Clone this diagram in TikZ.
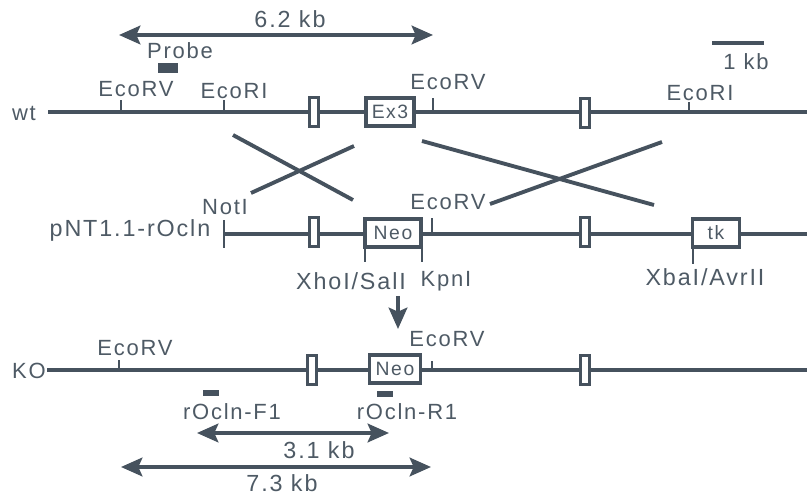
\documentclass[tikz,border=0pt]{standalone}
\usepackage{fontspec}
\setmainfont{Liberation Sans}[LetterSpace=8]
\usetikzlibrary{arrows.meta,positioning,calc}
\definecolor{kogrey}{HTML}{46525E}
\definecolor{kotext}{HTML}{4E5A65}

\begin{document}
\begin{tikzpicture}[
  x=0.75pt, y=-0.75pt,
  dna/.style={draw=kogrey, line width=2.7pt},
  exon/.style={
    draw=kogrey, line width=2.4pt, fill=white, inner sep=0pt,
    minimum width=6.6pt, minimum height=21.5pt},
  cassette/.style={
    draw=kogrey, line width=2.6pt, fill=white, inner sep=0pt,
    font=\fontsize{14.5}{16}\selectfont, text=kotext,
    minimum height=21pt},
  site/.style={draw=kogrey, line width=2.2pt},
  cross/.style={draw=kogrey, line width=2.9pt},
  span/.style={{Stealth[length=16pt,width=14pt,inset=3pt]}-{Stealth[length=16pt,width=14pt,inset=3pt]}, draw=kogrey, fill=kogrey, line width=2.7pt},
  bar/.style={fill=kogrey, inner sep=0pt},
  lbl/.style={font=\fontsize{16.5}{18}\selectfont, text=kotext, inner sep=0pt},
  widelbl/.style={lbl, font=\fontsize{17.5}{19}\selectfont},
]
  \useasboundingbox (0,0) rectangle (807,495);

  %% ---- Line ends ----
  \coordinate (wtl) at (48,112);   \coordinate (wtr) at (807,112);
  \coordinate (pnl) at (224,234);  \coordinate (pnr) at (807,234);
  \coordinate (kol) at (47,370);   \coordinate (kor) at (807,370);
  \draw[dna] (wtl) -- (wtr);
  \draw[dna] (pnl) -- (pnr);
  \draw[dna] (kol) -- (kor);

  %% ---- Exons and boxes ----
  \node[exon] (wte2) at (314,112) {};
  \node[exon] (wte4) at (585,113) {};
  \node[exon] (pne2) at (314,232) {};
  \node[exon] (pne4) at (585,232) {};
  \node[exon] (koe2) at (312,370) {};
  \node[exon] (koe4) at (585,370) {};
  \node[cassette, minimum width=36pt] (ex3) at (390,112) {Ex3};
  \node[cassette, minimum width=42pt] (neo) at (393,233) {Neo};
  \node[cassette, minimum width=35pt] (tk)  at (716,233) {tk};
  \node[cassette, minimum width=38pt] (kon) at (395,369) {Neo};

  %% ---- Restriction sites ----
  \foreach \s/\x/\y/\h in {a/121/112/-12,b/224/112/-12,c/433/112/-14,d/689/112/-10,
      e/224/248/-28,f/432/234/-16,g/365/248/14,h/422/248/14,i/693/248/16,
      j/119/370/-10,k/432/370/-9}{
    \coordinate (s\s) at (\x,\y);
    \draw[site] (s\s) -- ++(0,\h);
  }

  %% ---- Crossovers ----
  \coordinate (c1a) at (233,135);  \coordinate (c1b) at (353,200);
  \coordinate (c1c) at (251,193);  \coordinate (c1d) at (354,146);
  \coordinate (c2a) at (422,141);  \coordinate (c2b) at (654,205);
  \coordinate (c2c) at (490,204);  \coordinate (c2d) at (662,142);
  \draw[cross] (c1a) -- (c1b);
  \draw[cross] (c1c) -- (c1d);
  \draw[cross] (c2a) -- (c2b);
  \draw[cross] (c2c) -- (c2d);

  %% ---- Size arrows ----
  \coordinate (l62) at (119,35);   \coordinate (r62) at (433,35);
  \coordinate (l31) at (197,433);  \coordinate (r31) at (389,433);
  \coordinate (l73) at (121,467);  \coordinate (r73) at (431,467);
  \draw[span] (l62) -- (r62);
  \draw[span] (l31) -- (r31);
  \draw[span] (l73) -- (r73);
  \node[widelbl] (t62) at (290,19)  {6.2 kb};
  \node[widelbl] (t31) at (319,450) {3.1 kb};
  \node[widelbl] (t73) at (282,483) {7.3 kb};

  %% ---- Probe, primers, scale ----
  \node[bar, minimum width=15pt, minimum height=8pt] (probe) at (168,68) {};
  \node[bar, minimum width=12pt, minimum height=5pt] (pf1) at (211,393) {};
  \node[bar, minimum width=11.5pt, minimum height=5pt] (pr1) at (385,394) {};
  \coordinate (sl) at (712,43);  \coordinate (sr) at (764,43);
  \draw[site, line width=2.7pt] (sl) -- (sr);

  %% ---- Transition arrow ----
  \coordinate (dt) at (398,296);  \coordinate (db) at (398,329);
  \draw[-{Stealth[length=16pt,width=14pt,inset=3pt]}, draw=kogrey, fill=kogrey, line width=2.7pt] (dt) -- (db);

  %% ---- Labels ----
  \node[lbl] (tprobe) at (180,51)  {Probe};
  \node[lbl] (t1kb)   at (746,62)  {1 kb};
  \node[lbl] (twt)    at (24,113)  {wt};
  \node[widelbl] (tpn) at (130,230) {pNT1.1-rOcln};
  \node[lbl] (tko)    at (29,371)  {KO};
  \node[lbl] (tv1)    at (136,89)  {EcoRV};
  \node[lbl] (tr1)    at (234,91)  {EcoRI};
  \node[lbl] (tv2)    at (448,82)  {EcoRV};
  \node[lbl] (tr2)    at (700,93)  {EcoRI};
  \node[lbl] (tnot)   at (225,207) {NotI};
  \node[lbl] (tv3)    at (448,202) {EcoRV};
  \node[widelbl] (txho) at (351,281) {XhoI/SalI};
  \node[lbl] (tkpn)   at (446,281) {KpnI};
  \node[widelbl] (txba) at (705,277) {XbaI/AvrII};
  \node[lbl] (tv4)    at (447,339) {EcoRV};
  \node[lbl] (tv5)    at (135,348) {EcoRV};
  \node[lbl] (tf1)    at (232,412) {rOcln-F1};
  \node[lbl] (tr1b)   at (407,412) {rOcln-R1};

\end{tikzpicture}
\end{document}
